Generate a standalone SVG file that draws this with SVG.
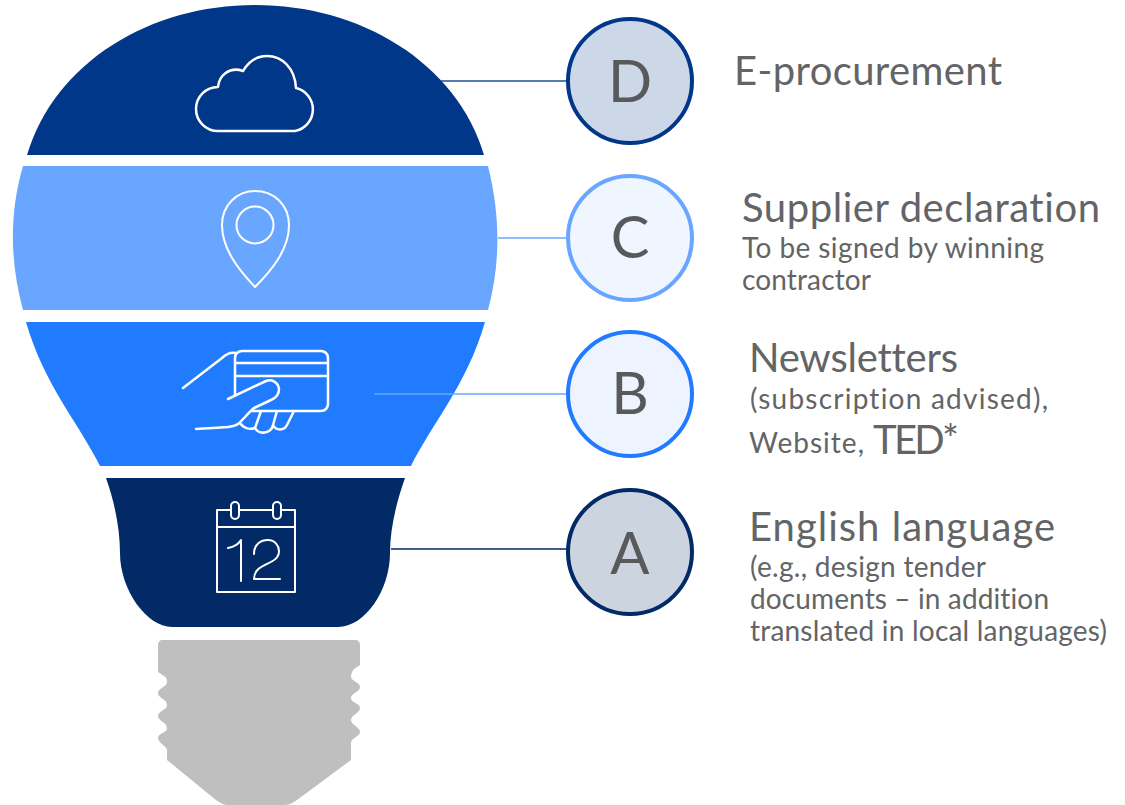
<svg xmlns="http://www.w3.org/2000/svg" width="1125" height="805" viewBox="0 0 1125 805">
<style>
.ic{fill:none;stroke:#fff;stroke-width:2;stroke-linecap:round;stroke-linejoin:round}
.w{stroke-width:2.500}
.t{font-family:Lato,"Open Sans",sans-serif;fill:#636466;font-variant-ligatures:none}
.h{font-size:40px}
.s{font-size:28px}
.l{font-family:Lato,"Open Sans",sans-serif;font-size:58px;fill:#58595b;text-anchor:middle}
.c{stroke-width:4}
</style>
<rect width="1125" height="805" fill="#fff"/>
<g id="bulb-d">
<path d="M27 155C55 62 150 5 255 5C360 5 456 62 484 155Z" fill="#003789"/>
<path class="ic w" d="M218 131A22 22 0 0 1 218 87C219 76 229 66 243 71C249 61 258 56 267 56C282 56 295 68 296 88A22 22 0 0 1 295 131Z"/>
</g>
<g id="bulb-c">
<path d="M23 166H488C500 214 501 262 488 310H23C10 262 9 214 23 166Z" fill="#69a6ff"/>
<path class="ic" d="M255 287C237 268 222 248 222 225C222 205 237 191 255 191C274 191 289 205 289 225C289 248 274 268 255 287Z"/>
<circle class="ic" cx="255" cy="225" r="18.500"/>
</g>
<g id="bulb-b">
<path d="M26 322H485C467 385 431 425 411 466H100C80 425 44 385 26 322Z" fill="#217bff"/>
<path class="ic w" d="M183 388L222 358C226 354 231 352 236 353M235 395V358C235 354 238 351 242 351H321C325 351 328 354 328 358V404C328 408 325 411 321 411H252M235 363H328M235 376H328M228 399L266 381C272 379 278 382 279 389C279 394 276 398 271 400L254 408C248 413 243 420 238 424C234 427 230 427 196 429M294 411L287 425C284 431 276 431 273 425L277 411M273 425C271 434 259 435 255 428L261 411M255 428C249 430 243 428 240 423"/>
</g>
<g id="bulb-a">
<path d="M106 478H405C396 503 390 530 390 553C390 590 365 627 338 627H172C147 627 120 590 120 553C120 530 115 503 106 478Z" fill="#012a66"/>
<path class="ic" d="M231 510H217V592H295V510H281M239 510H273M217 527H295"/>
<rect class="ic" x="231" y="502" width="8" height="17" rx="4"/>
<rect class="ic" x="273" y="502" width="8" height="17" rx="4"/>
<path class="ic" d="M228 548C234 547 238 545 241 540V581M254 554C254 544 261 540 268 540C275 540 279 546 279 551C279 566 254 562 254 579H280"/>
</g>
<g id="bulb-base">
<path d="M162 640H355C358 640 360 642 360 645V665L354 669C352 671 351 674 351 677C351 681 360 682 360 687C360 692 351 693 351 698C351 703 360 703 360 708C360 713 351 715 351 720C351 725 360 727 360 732C360 736 351 738 351 743V760L297 800C293 803 289 805 284 805H228C224 805 220 803 216 800L167 760V750C167 746 158 743 158 738C158 733 167 733 167 728C167 722 158 721 158 716C158 711 167 710 167 705C167 699 158 698 158 693C158 688 167 687 167 682C167 679 166 677 164 676L158 672V645C158 642 160 640 162 640Z" fill="#bfbfbf"/>
</g>
<g id="connectors" fill="none" stroke-width="1.400">
<path d="M441 81H568" stroke="#1f4f96"/>
<path d="M498 238H568" stroke="#69a6ff"/>
<path d="M374 394H568" stroke="#69a6ff"/>
<path d="M391 549H568" stroke="#012a66"/>
</g>
<g id="node-d">
<circle class="c" cx="630" cy="81" r="62" fill="#ccd7e7" stroke="#003789"/>
<text class="l" x="630" y="102">D</text>
<text class="t h" x="734" y="85" textLength="268">E-procurement</text>
</g>
<g id="node-c">
<circle class="c" cx="630" cy="238" r="62" fill="#f0f6ff" stroke="#69a6ff"/>
<text class="l" x="630" y="258">C</text>
<text class="t h" x="742" y="222" textLength="358">Supplier declaration</text>
<text class="t s" x="742" y="258" textLength="302">To be signed by winning</text>
<text class="t s" x="742" y="290" textLength="129">contractor</text>
</g>
<g id="node-b">
<circle class="c" cx="630" cy="394" r="62" fill="#edf4ff" stroke="#217bff"/>
<text class="l" x="630" y="414">B</text>
<text class="t h" x="749" y="372" textLength="209">Newsletters</text>
<text class="t s" x="750" y="409" textLength="298">(subscription advised),</text>
<text class="t s" x="749" y="453" textLength="115">Website,</text>
<text class="t h" x="873" y="454" textLength="86">TED*</text>
</g>
<g id="node-a">
<circle class="c" cx="630" cy="552" r="62" fill="#ccd4e0" stroke="#012a66"/>
<text class="l" x="630" y="574">A</text>
<text class="t h" x="749" y="541" textLength="306">English language</text>
<text class="t s" x="750" y="577" textLength="236">(e.g., design tender</text>
<text class="t s" x="750" y="609" textLength="299">documents – in addition</text>
<text class="t s" x="750" y="641" textLength="357">translated in local languages)</text>
</g>
</svg>
